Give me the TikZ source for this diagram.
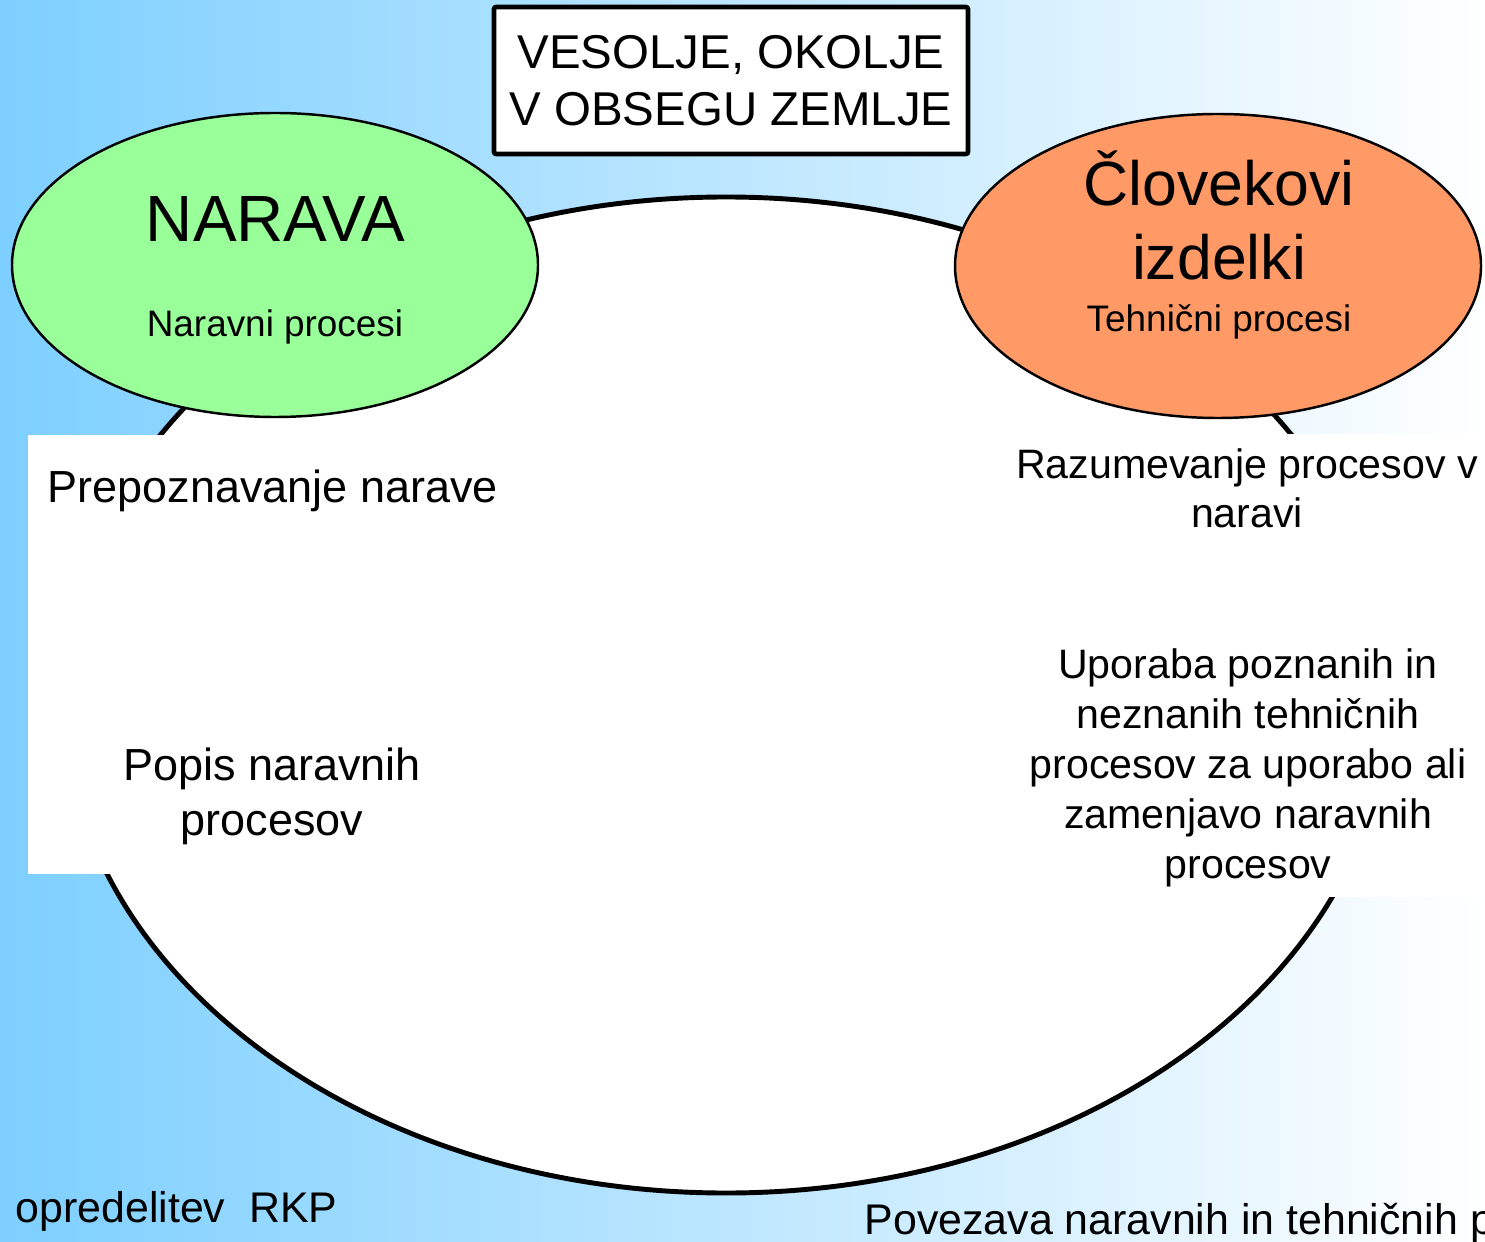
\documentclass[tikz,border=0pt]{standalone}
\usepackage{fontspec}
\setmainfont{Liberation Sans}
\usetikzlibrary{shapes.geometric}
\definecolor{skyblue}{RGB}{125,207,255}
\definecolor{natgreen}{RGB}{153,255,153}
\definecolor{humorange}{RGB}{255,153,102}

\begin{document}
\begin{tikzpicture}[
    bigoval/.style={ellipse, draw=black, line width=1.4pt, fill=white, minimum width=13.26cm, minimum height=9.96cm, inner sep=0pt},
    natnode/.style={ellipse, draw=black, line width=0.7pt, fill=natgreen, minimum width=5.26cm, minimum height=3.04cm, inner sep=0pt},
    humnode/.style={ellipse, draw=black, line width=0.7pt, fill=humorange, minimum width=5.26cm, minimum height=3.04cm, inner sep=0pt},
    titlebox/.style={draw=black, line width=1.3pt, fill=white, rounded corners=0.6pt, minimum width=4.74cm, minimum height=1.47cm, inner sep=0pt, align=center, font=\fontsize{13.5}{16.2}\selectfont},
    coverbox/.style={fill=white, inner sep=0pt, anchor=north west},
    bigtext/.style={font=\fontsize{17.8}{21.3}\selectfont, inner sep=0pt, anchor=base},
    smalltext/.style={font=\fontsize{10.5}{12.6}\selectfont, inner sep=0pt, anchor=base},
    lefttext/.style={font=\fontsize{12.8}{15.6}\selectfont, inner sep=0pt, align=center, anchor=base},
    righttext/.style={font=\fontsize{11.7}{14.2}\selectfont, inner sep=0pt, align=center, anchor=base},
    bottomtext/.style={font=\fontsize{12.2}{14.6}\selectfont, inner sep=0pt, anchor=base west},
]
\useasboundingbox (0,0) rectangle (14.85,12.41);

% background
\shade[left color=skyblue, right color=white] (0,0) rectangle (14.85,12.41);

% === the big circle ===
\node[bigoval] (world) at (7.26,5.46) {};

% white boxes over its sides
\node[coverbox, minimum width=4.88cm, minimum height=4.39cm] (leftcover) at (0.27,8.07) {};
\node[coverbox, minimum width=4.85cm, minimum height=4.63cm] (rightcover) at (10.00,8.08) {};

% === the two ovals ===
\node[natnode] (narava) at (2.75,9.76) {};
\node[humnode] (clovek) at (12.18,9.75) {};

% === title ===
\node[titlebox] (vesolje) at (7.31,11.605) {VESOLJE, OKOLJE\\V OBSEGU ZEMLJE};

% texts in the ovals (base = last line)
\node[bigtext, font=\fontsize{18.6}{22}\selectfont] (naravatitle) at (2.755,9.99) {NARAVA};
\node[smalltext] (naravasub) at (2.75,9.04) {Naravni procesi};
\node[bigtext, align=center] (clovektitle) at (12.19,9.61) {Človekovi\\izdelki};
\node[smalltext] (cloveksub) at (12.19,9.09) {Tehnični procesi};

% left side
\node[lefttext, anchor=base west] (prepoznavanje) at (0.47,7.38) {Prepoznavanje narave};
\node[lefttext] (popis) at (2.72,4.06) {Popis naravnih\\procesov};

% right side
\node[righttext] (razumevanje) at (12.47,7.13) {Razumevanje procesov v\\naravi};
\node[righttext] (uporaba) at (12.48,3.63) {Uporaba poznanih in\\neznanih tehničnih\\procesov za uporabo ali\\zamenjavo naravnih\\procesov};

% bottom
\node[bottomtext] (rkp) at (0.15,0.19) {opredelitev\ \ RKP};
\node[bottomtext] (povezava) at (8.64,0.07) {Povezava naravnih in tehničnih p};

\end{tikzpicture}
\end{document}
